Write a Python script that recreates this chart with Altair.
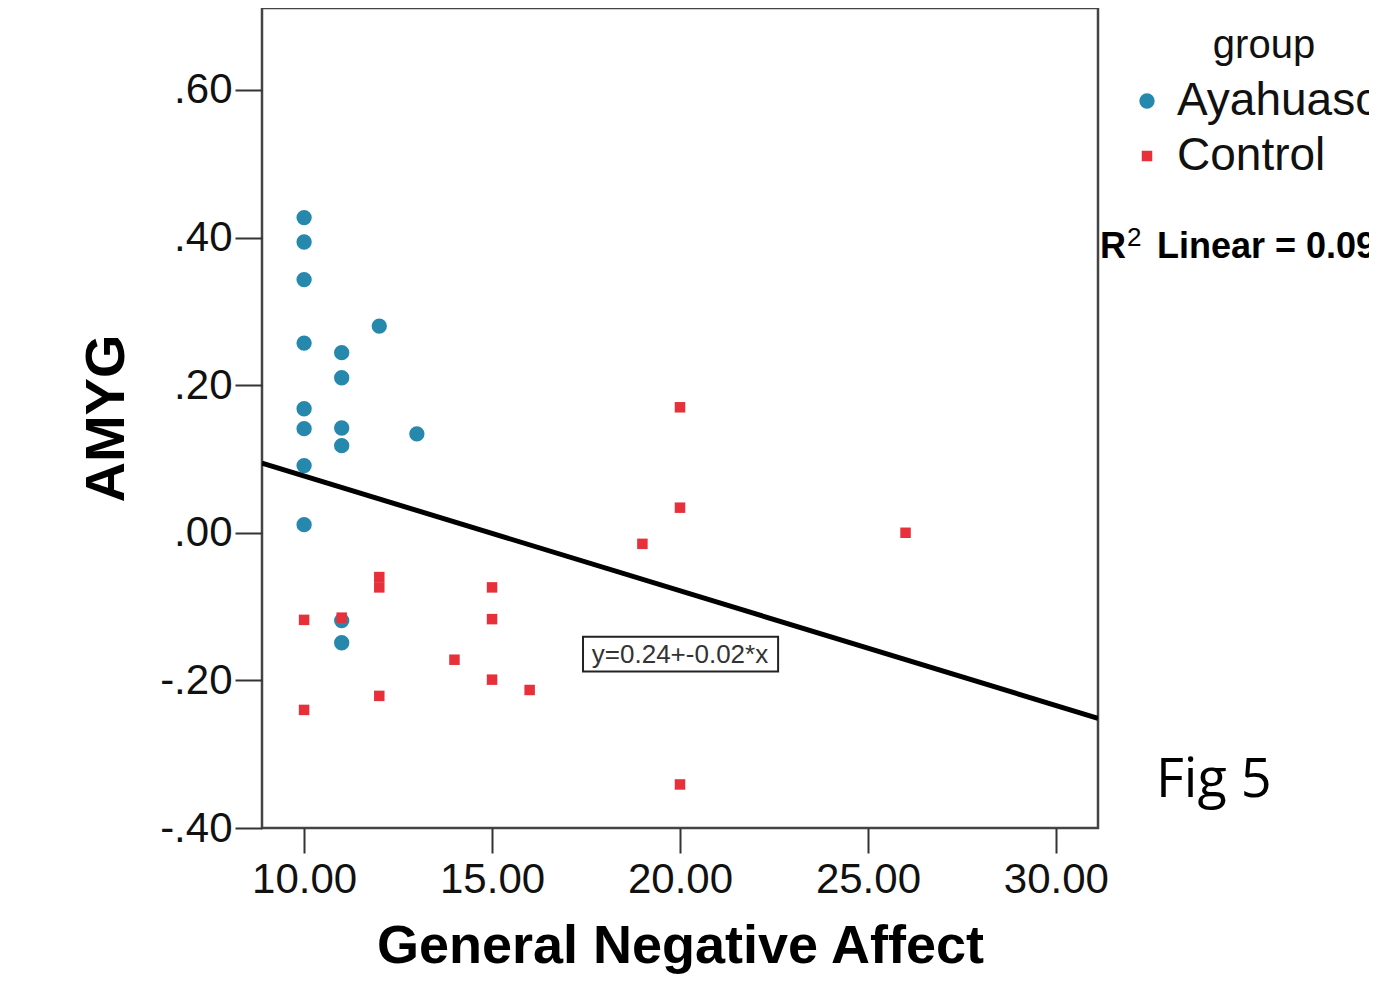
import altair as alt
import pandas as pd

# Ayahuasca group
aya_x = [10, 10, 10, 10, 10, 10, 10, 10, 11, 11, 11, 11, 11, 11, 12, 13]
aya_y = [0.427, 0.394, 0.343, 0.257, 0.168, 0.141, 0.091, 0.011,
         0.244, 0.210, 0.142, 0.118, -0.119, -0.149, 0.280, 0.134]
# Control group
ctl_x = [10, 10, 11, 12, 12, 12, 14, 15, 15, 15, 16, 19, 20, 20, 20, 26]
ctl_y = [-0.118, -0.240, -0.115, -0.060, -0.074, -0.221, -0.172, -0.074,
         -0.117, -0.199, -0.213, -0.015, 0.170, 0.034, -0.341, 0.000]

groups = ["Ayahuasca", "Control"]
colors = ["#2688ac", "#e8303a"]
shapes = ["circle", "square"]
sizes = [235, 110]

x_ticks = [10, 15, 20, 25, 30]
y_ticks = [-0.4, -0.2, 0.0, 0.2, 0.4, 0.6]
x_domain = [8.88, 31.12]
y_domain = [-0.40, 0.711]

equation = "y=0.24+-0.02*x"
eq_pos = {"x": 20.0, "y": -0.165, "x1": 17.42, "x2": 22.61, "y1": -0.141, "y2": -0.188}
r2_parts = ["R", "2", "Linear = 0.095"]
fig_text = "Fig 5"

df = pd.DataFrame({
    "x": aya_x + ctl_x,
    "y": aya_y + ctl_y,
    "group": ["Ayahuasca"] * len(aya_x) + ["Control"] * len(ctl_x),
})

FONT = "Liberation Sans"

xscale = alt.Scale(domain=x_domain, nice=False, zero=False)
yscale = alt.Scale(domain=y_domain, nice=False, zero=False)

x_axis = alt.Axis(values=x_ticks, format=".2f", title="General Negative Affect",
                  grid=False, domain=False, tickSize=25, tickWidth=2, tickColor="#333",
                  labelFontSize=42, labelFont=FONT, labelColor="#111", labelPadding=6,
                  titleFontSize=54, titleFont=FONT, titleFontWeight="bold", titleColor="#000",
                  titleY=134, titleBaseline="alphabetic")
y_axis = alt.Axis(values=y_ticks, title="AMYG",
                  labelExpr="replace(replace(format(datum.value, '.2f'), '0.', '.'), '\u2212', '-')",
                  grid=False, domain=False, tickSize=27, tickWidth=2, tickColor="#333",
                  labelFontSize=42, labelFont=FONT, labelColor="#111", labelPadding=3,
                  titleFontSize=56, titleFont=FONT, titleFontWeight="bold", titleColor="#000",
                  titleX=-139, titleY=410, titleAngle=270, titleBaseline="alphabetic",
                  titleAlign="center")

base = alt.Chart(df)

points = base.mark_point(filled=True, opacity=1).encode(
    x=alt.X("x:Q", scale=xscale, axis=x_axis),
    y=alt.Y("y:Q", scale=yscale, axis=y_axis),
    color=alt.Color("group:N", scale=alt.Scale(domain=groups, range=colors),
                    legend=alt.Legend(title="group", orient="none", legendX=862, legendY=18,
                                      titleFontSize=40, titleFont=FONT, titleFontWeight="normal",
                                      titleColor="#111", titleAnchor="middle", titlePadding=12,
                                      labelFontSize=46, labelFont=FONT, labelColor="#111",
                                      labelOffset=7, rowPadding=9, labelLimit=400,
                                      labelBaseline="middle", labelFontWeight="normal")),
    shape=alt.Shape("group:N", scale=alt.Scale(domain=groups, range=shapes)),
    size=alt.Size("group:N", scale=alt.Scale(domain=groups, range=sizes)),
)

reg = base.transform_regression("x", "y", extent=x_domain).mark_line(
    color="black", strokeWidth=5, clip=True
).encode(x=alt.X("x:Q", scale=xscale), y=alt.Y("y:Q", scale=yscale))

box = alt.Chart(pd.DataFrame([eq_pos])).mark_rect(
    fill="white", stroke="#222", strokeWidth=2
).encode(x="x1:Q", x2="x2:Q", y="y1:Q", y2="y2:Q")

eq = alt.Chart(pd.DataFrame([eq_pos])).mark_text(
    text=equation, font=FONT, fontSize=26, color="#333", align="center", baseline="middle"
).encode(x="x:Q", y="y:Q")

r2_main = alt.Chart(pd.DataFrame({"t": [r2_parts[0]]})).mark_text(
    font=FONT, fontSize=36, fontWeight="bold", color="#000", align="left", baseline="alphabetic"
).encode(x=alt.value(838), y=alt.value(250), text="t:N")
r2_sup = alt.Chart(pd.DataFrame({"t": [r2_parts[1]]})).mark_text(
    font=FONT, fontSize=26, fontWeight="normal", color="#000", align="left", baseline="alphabetic"
).encode(x=alt.value(865), y=alt.value(238), text="t:N")
r2_rest = alt.Chart(pd.DataFrame({"t": [r2_parts[2]]})).mark_text(
    font=FONT, fontSize=36, fontWeight="bold", color="#000", align="left", baseline="alphabetic"
).encode(x=alt.value(895), y=alt.value(250), text="t:N")

fig = alt.Chart(pd.DataFrame({"t": [fig_text]})).mark_text(
    font="Open Sans", fontSize=54, color="#000", align="left", baseline="alphabetic"
).encode(x=alt.value(894), y=alt.value(789), text="t:N")

chart = alt.layer(points, reg, box, eq, r2_main, r2_sup, r2_rest, fig).properties(
    width=836, height=820,
    autosize=alt.AutoSizeParams(type="none"),
    padding={"left": 254, "top": 0, "right": 271, "bottom": 150},
).configure(background="white").configure_view(stroke="#444", strokeWidth=2.5)

chart.save("out.html", embed_options={"renderer": "svg", "actions": False})
